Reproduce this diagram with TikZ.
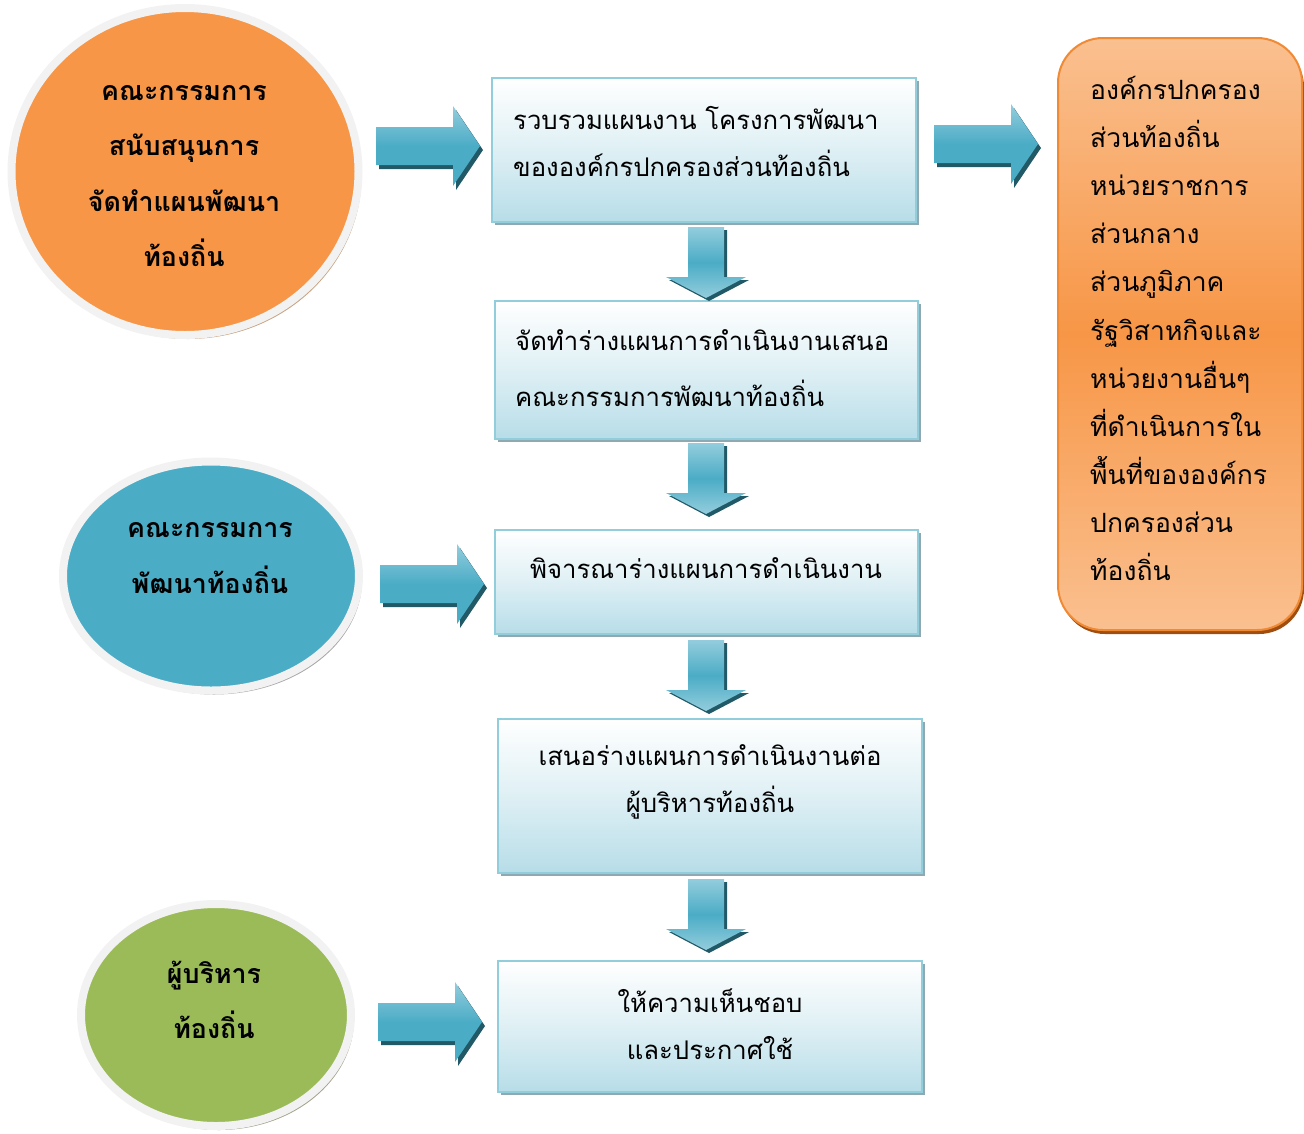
\documentclass[tikz,border=0pt]{standalone}
\usepackage{fontspec}
\setmainfont[Script=Thai]{Loma}
\usetikzlibrary{shapes.geometric,shadows}
\definecolor{boxline}{HTML}{92CDDC}
\definecolor{boxlow}{HTML}{B7DDE8}
\definecolor{boxshade}{HTML}{8FA9B2}
\definecolor{arrmain}{HTML}{4BACC6}
\definecolor{arrlight}{HTML}{93CDDD}
\definecolor{arrshade}{HTML}{215967}
\definecolor{orgmain}{HTML}{F79646}
\definecolor{orglight}{HTML}{FAC090}
\definecolor{orgline}{HTML}{F08A35}
\definecolor{orgshade}{HTML}{A04E10}
\definecolor{ellorange}{HTML}{F79646}
\definecolor{ellblue}{HTML}{4BACC6}
\definecolor{ellgreen}{HTML}{9BBB59}
\definecolor{ellrim}{HTML}{F2F2F2}
\definecolor{tanshade}{HTML}{C9A27F}
\definecolor{grayshade}{HTML}{A6A6A6}
\definecolor{olvshade}{HTML}{A3A38A}
\tikzset{
  flowbox/.style={rectangle, draw=boxline, line width=2.5pt, top color=white,
    bottom color=boxlow, middle color=boxlow!45!white, inner sep=0pt,
    drop shadow={shadow xshift=3pt, shadow yshift=-3pt, fill=boxshade, opacity=1}},
  boxtext/.style={inner sep=0pt, font=\fontsize{25.7}{47}\selectfont},
  elltext/.style={inner sep=0pt, align=center, font=\bfseries\fontsize{26.8}{55.5}\selectfont},
  ellnode/.style={ellipse, draw=ellrim, line width=8pt, inner sep=0pt},
  rightblock/.pic={
    \fill[arrshade, shift={(3,4)}] (0,-19) -- (77,-19) -- (77,-40) -- (104,0) -- (77,40) -- (77,19) -- (0,19) -- cycle;
    \shade[top color=arrlight, bottom color=arrmain, middle color=arrmain]
      (0,-19) -- (77,-19) -- (77,-40) -- (104,0) -- (77,40) -- (77,19) -- (0,19) -- cycle;
  },
  downblock/.pic={
    \fill[arrshade, shift={(3,3)}] (-18,0) -- (18,0) -- (18,50) -- (40,50) -- (0,71) -- (-40,50) -- (-18,50) -- cycle;
    \shade[top color=arrlight, bottom color=arrlight, middle color=arrmain]
      (-18,0) -- (18,0) -- (18,50) -- (40,50) -- (0,71) -- (-40,50) -- (-18,50) -- cycle;
  }
}
\begin{document}
\begin{tikzpicture}[x=1pt, y=-1pt]
\useasboundingbox (0,0) rectangle (1304,1133);
% ellipses
\node[ellnode, fill=ellorange, minimum width=347, minimum height=327,
  drop shadow={shadow xshift=3pt, shadow yshift=-4pt, fill=tanshade, opacity=1}] (e1) at (185,171.5) {};
\node[elltext] (e1t) at (184,176) {คณะกรรมการ\\สนับสนุนการ\\จัดทำแผนพัฒนา\\ท้องถิ่น};
\node[ellnode, fill=ellblue, minimum width=296, minimum height=229,
  drop shadow={shadow xshift=3pt, shadow yshift=-4pt, fill=grayshade, opacity=1}] (e2) at (211,576) {};
\node[elltext] (e2t) at (210,558) {คณะกรรมการ\\พัฒนาท้องถิ่น};
\node[ellnode, fill=ellgreen, minimum width=270, minimum height=222,
  drop shadow={shadow xshift=3pt, shadow yshift=-4pt, fill=olvshade, opacity=1}] (e3) at (216,1015) {};
\node[elltext] (e3t) at (214,1000) {ผู้บริหาร\\ท้องถิ่น};
% flow boxes
\node[flowbox, minimum width=424, minimum height=144] (b1) at (704,150) {};
\node[boxtext, anchor=west, align=left] (b1t) at (513,141.5) {รวบรวมแผนงาน โครงการพัฒนา\\ขององค์กรปกครองส่วนท้องถิ่น};
\node[flowbox, minimum width=423, minimum height=138] (b2) at (706.5,370) {};
\node[boxtext, anchor=west, align=left] (b2t) at (515,368) {จัดทำร่างแผนการดำเนินงานเสนอ\\[9pt]คณะกรรมการพัฒนาท้องถิ่น};
\node[flowbox, minimum width=423, minimum height=104] (b3) at (706.5,582) {};
\node[boxtext] (b3t) at (706,568) {พิจารณาร่างแผนการดำเนินงาน};
\node[flowbox, minimum width=424, minimum height=154] (b4) at (710,796) {};
\node[boxtext, align=center] (b4t) at (710,781.5) {เสนอร่างแผนการดำเนินงานต่อ\\ผู้บริหารท้องถิ่น};
\node[flowbox, minimum width=424, minimum height=131] (b5) at (710,1026.5) {};
\node[boxtext, align=center] (b5t) at (710,1024) {ให้ความเห็นชอบ\\และประกาศใช้};
% orange list box
\node[rectangle, rounded corners=45pt, draw=orgline, line width=2pt,
  top color=orglight, bottom color=orglight, middle color=orgmain,
  minimum width=244, minimum height=592,
  drop shadow={shadow xshift=2pt, shadow yshift=-4pt, fill=orgshade, opacity=1}] (ob) at (1180,334) {};
\node[boxtext, anchor=west, align=left, font=\fontsize{26.5}{48.1}\selectfont] (obt) at (1090,328.5)
  {องค์กรปกครอง\\ส่วนท้องถิ่น\\หน่วยราชการ\\ส่วนกลาง\\ส่วนภูมิภาค\\รัฐวิสาหกิจและ\\หน่วยงานอื่นๆ\\ที่ดำเนินการใน\\พื้นที่ขององค์กร\\ปกครองส่วน\\ท้องถิ่น};
% block arrows
\pic at (376,146) {rightblock};
\pic at (934,144) {rightblock};
\pic at (380,584) {rightblock};
\pic at (378,1022) {rightblock};
\pic at (706,227) {downblock};
\pic at (706,443) {downblock};
\pic at (706,640) {downblock};
\pic at (706,879) {downblock};
\end{tikzpicture}
\end{document}
